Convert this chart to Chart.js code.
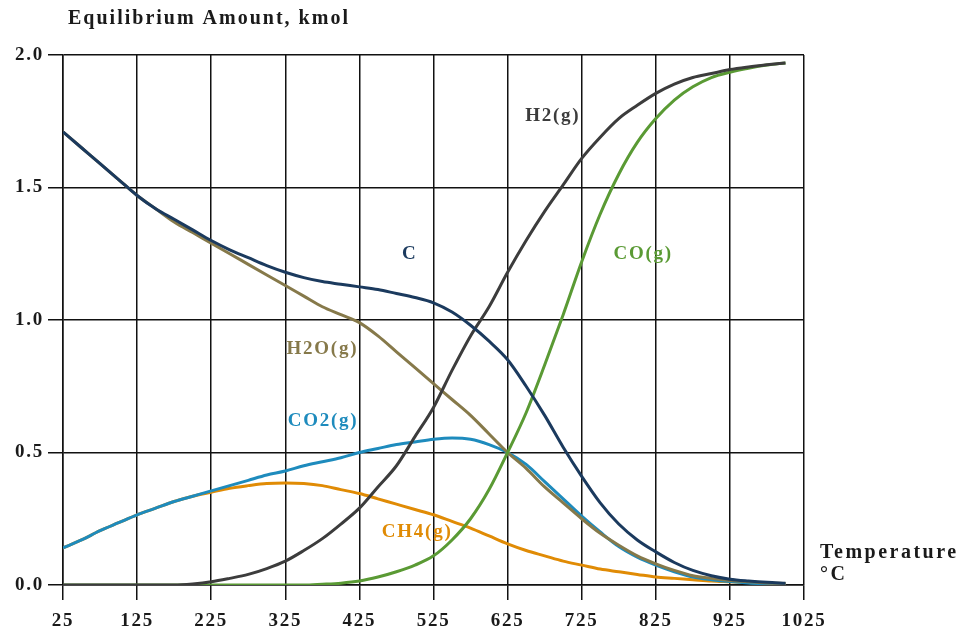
<!DOCTYPE html>
<html>
<head>
<meta charset="utf-8">
<script src="https://cdn.jsdelivr.net/npm/chart.js@4.4.1/dist/chart.umd.min.js"></script>
<style>
  html, body { margin: 0; padding: 0; background: #fff; }
  #wrap { position: relative; width: 964px; height: 633px; }
</style>
</head>
<body>
<div id="wrap"><canvas id="eqChart" width="964" height="633"></canvas></div>
<script>
// 温度 (°C)
const temps = [25, 50, 75, 100, 125, 150, 175, 200, 225, 250, 275, 300, 325, 350, 375, 400,
  425, 450, 475, 500, 525, 550, 575, 600, 625, 650, 675, 700, 725, 750, 775, 800,
  825, 850, 875, 900, 925, 950, 975, 1000];

// 各组分平衡量 (kmol)
const cSolid = [1.71, 1.65, 1.59, 1.53, 1.47, 1.42, 1.38, 1.34, 1.30, 1.265, 1.235, 1.205, 1.18, 1.16, 1.145, 1.135,
  1.125, 1.115, 1.10, 1.085, 1.065, 1.03, 0.98, 0.92, 0.85, 0.75, 0.64, 0.52, 0.41, 0.31, 0.23, 0.17,
  0.125, 0.085, 0.055, 0.035, 0.022, 0.015, 0.01, 0.007];
const h2 = [0, 0, 0, 0, 0, 0, 0, 0.004, 0.012, 0.025, 0.04, 0.062, 0.09, 0.13, 0.175, 0.23,
  0.29, 0.37, 0.45, 0.56, 0.67, 0.81, 0.94, 1.05, 1.18, 1.30, 1.41, 1.51, 1.61, 1.69, 1.76, 1.81,
  1.855, 1.89, 1.915, 1.93, 1.945, 1.955, 1.963, 1.97];
const co = [0, 0, 0, 0, 0, 0, 0, 0, 0, 0, 0, 0, 0, 0, 0.003, 0.007,
  0.015, 0.03, 0.05, 0.075, 0.11, 0.17, 0.25, 0.36, 0.50, 0.65, 0.83, 1.02, 1.22, 1.40, 1.55, 1.67,
  1.76, 1.83, 1.88, 1.915, 1.935, 1.95, 1.962, 1.97];
const h2o = [1.71, 1.65, 1.59, 1.53, 1.47, 1.42, 1.37, 1.33, 1.29, 1.25, 1.21, 1.17, 1.13, 1.09, 1.05, 1.02,
  0.99, 0.94, 0.88, 0.82, 0.76, 0.70, 0.64, 0.57, 0.50, 0.44, 0.37, 0.31, 0.25, 0.195, 0.15, 0.11,
  0.08, 0.055, 0.035, 0.025, 0.017, 0.012, 0.008, 0.006];
const co2 = [0.14, 0.17, 0.205, 0.235, 0.265, 0.29, 0.315, 0.335, 0.355, 0.375, 0.395, 0.415, 0.43, 0.45, 0.465, 0.48,
  0.50, 0.515, 0.53, 0.54, 0.55, 0.555, 0.55, 0.53, 0.50, 0.455, 0.39, 0.325, 0.26, 0.20, 0.145, 0.105,
  0.075, 0.05, 0.03, 0.02, 0.013, 0.008, 0.005, 0.003];
const ch4 = [0.14, 0.17, 0.205, 0.235, 0.265, 0.29, 0.315, 0.335, 0.35, 0.365, 0.375, 0.383, 0.385, 0.383, 0.375, 0.36,
  0.345, 0.325, 0.305, 0.285, 0.265, 0.24, 0.215, 0.185, 0.155, 0.13, 0.11, 0.09, 0.075, 0.06, 0.05, 0.04,
  0.03, 0.025, 0.02, 0.015, 0.012, 0.009, 0.007, 0.005];

// 曲线标签位置 (数据坐标)
const seriesNames = ['C', 'H2(g)', 'CO(g)', 'H2O(g)', 'CO2(g)', 'CH4(g)'];
const labelTemps = [493, 686, 808, 375, 376, 503];
const labelValues = [1.25, 1.77, 1.25, 0.89, 0.62, 0.20];
const seriesColors = ['#1b3a5e', '#3c3c3c', '#5a9a34', '#86794a', '#1e8bbd', '#e08b05'];
const seriesData = [cSolid, h2, co, h2o, co2, ch4];

const SERIF = '"Liberation Serif", "Times New Roman", serif';
const INK = '#1a1a1a';

function toPoints(values) {
    return temps.map((t, i) => ({ x: t, y: values[i] }));
}

// 字距加宽，接近原图的字体效果
const wideText = {
    id: 'wideText',
    beforeInit(chart) { chart.ctx.letterSpacing = '1.75px'; },
    beforeLayout(chart) { chart.ctx.letterSpacing = '1.75px'; },
    beforeDraw(chart) { chart.ctx.letterSpacing = '1.75px'; }
};

// 在曲线旁绘制名称
const curveLabels = {
    id: 'curveLabels',
    afterDatasetsDraw(chart) {
        const ctx = chart.ctx;
        const xs = chart.scales.x, ys = chart.scales.y;
        ctx.save();
        ctx.letterSpacing = '1.75px';
        ctx.font = 'bold 19px ' + SERIF;
        ctx.textAlign = 'center';
        ctx.textBaseline = 'middle';
        seriesNames.forEach((name, i) => {
            ctx.fillStyle = seriesColors[i];
            ctx.fillText(name, xs.getPixelForValue(labelTemps[i]), ys.getPixelForValue(labelValues[i]));
        });
        // 轴标题
        ctx.fillStyle = INK;
        ctx.textAlign = 'left';
        ctx.letterSpacing = '2px';
        ctx.font = 'bold 20px ' + SERIF;
        ctx.fillText('Equilibrium Amount, kmol', 68, 19);
        ctx.letterSpacing = '2.5px';
        ctx.fillText('Temperature', 820, 553);
        ctx.fillText('°C', 820, 575);
        ctx.restore();
    }
};

new Chart(document.getElementById('eqChart'), {
    type: 'line',
    data: {
        datasets: seriesNames.map((name, i) => ({
            label: name,
            data: toPoints(seriesData[i]),
            borderColor: seriesColors[i],
            borderWidth: 3,
            pointRadius: 0,
            fill: false,
            cubicInterpolationMode: 'monotone'
        }))
    },
    options: {
        responsive: false,
        animation: false,
        layout: { padding: { left: 0, top: 55, right: 160, bottom: 0 } },
        plugins: {
            legend: { display: false },
            tooltip: { enabled: false }
        },
        scales: {
            x: {
                type: 'linear',
                min: 25,
                max: 1025,
                afterBuildTicks: scale => {
                    scale.ticks = [];
                    for (let v = 25; v <= 1025; v += 100) scale.ticks.push({ value: v });
                },
                afterFit: scale => { scale.height = 48; },
                grid: { color: '#111', lineWidth: 1.5, tickLength: 15 },
                border: { color: '#111', width: 1.5 },
                ticks: {
                    color: INK,
                    padding: 10,
                    maxRotation: 0,
                    autoSkip: false,
                    font: { family: SERIF, size: 19, weight: 'bold' },
                    callback: v => String(v)
                }
            },
            y: {
                min: 0,
                max: 2,
                afterFit: scale => { scale.width = 63; },
                grid: { color: '#111', lineWidth: 1.5, tickLength: 15 },
                border: { color: '#111', width: 1.5 },
                ticks: {
                    stepSize: 0.5,
                    color: INK,
                    padding: 4,
                    font: { family: SERIF, size: 19, weight: 'bold' },
                    callback: v => v.toFixed(1)
                }
            }
        }
    },
    plugins: [wideText, curveLabels]
});
</script>
</body>
</html>
